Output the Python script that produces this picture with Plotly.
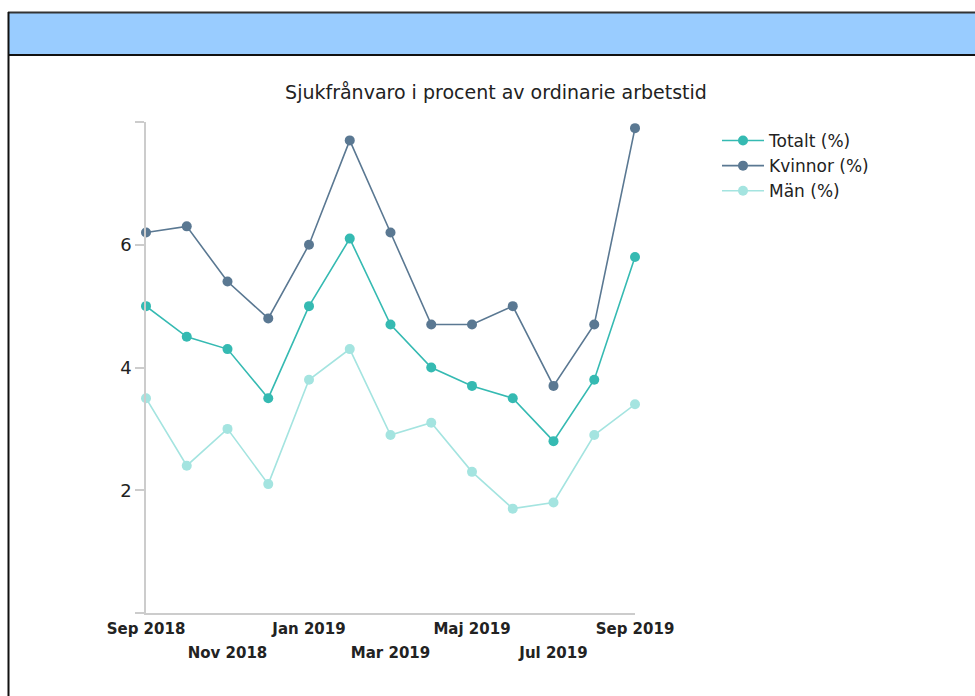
import plotly.graph_objects as go

months = ["Sep 2018", "Okt 2018", "Nov 2018", "Dec 2018", "Jan 2019", "Feb 2019",
          "Mar 2019", "Apr 2019", "Maj 2019", "Jun 2019", "Jul 2019", "Aug 2019", "Sep 2019"]
totalt = [5.0, 4.5, 4.3, 3.5, 5.0, 6.1, 4.7, 4.0, 3.7, 3.5, 2.8, 3.8, 5.8]
kvinnor = [6.2, 6.3, 5.4, 4.8, 6.0, 7.7, 6.2, 4.7, 4.7, 5.0, 3.7, 4.7, 7.9]
man = [3.5, 2.4, 3.0, 2.1, 3.8, 4.3, 2.9, 3.1, 2.3, 1.7, 1.8, 2.9, 3.4]
row1_ticks = ["Sep 2018", "Jan 2019", "Maj 2019", "Sep 2019"]
row2_ticks = ["Nov 2018", "Mar 2019", "Jul 2019"]
y_ticks = [0, 2, 4, 6, 8]
y_ticktext = ["", "2", "4", "6", ""]

W, H = 975, 696
L, R, T, B = 146, 635, 122, 613

def px(x):
    return (x - L) / (R - L)

def py(y):
    return (B - y) / (B - T)

fig = go.Figure()
series = [("Totalt (%)", totalt, "#35bab2"), ("Kvinnor (%)", kvinnor, "#5a7892"),
          ("Män (%)", man, "#a4e4e0")]
for name, vals, col in series:
    fig.add_trace(go.Scatter(x=months, y=vals, name=name, mode="lines+markers",
                             line=dict(color=col, width=1.6),
                             marker=dict(color=col, size=10), cliponaxis=False))

tickfont = dict(family="DejaVu Sans", size=15, color="#222222", weight="bold")
fig.update_layout(
    width=W, height=H, autosize=False,
    margin=dict(l=L, r=W - R, t=T, b=H - B, pad=0),
    paper_bgcolor="white", plot_bgcolor="white",
    font=dict(family="DejaVu Sans", color="#222222"),
    title=dict(text="Sjukfrånvaro i procent av ordinarie arbetstid",
               font=dict(family="DejaVu Sans", size=19, color="#222222"),
               xref="container", x=496 / W, xanchor="center",
               yref="container", y=1 - 92 / H, yanchor="middle"),
    xaxis=dict(type="category", categoryorder="array", categoryarray=months,
               range=[0, len(months) - 1], showgrid=False, zeroline=False,
               showline=True, linecolor="#cccccc", linewidth=1.5,
               ticks="", tickmode="array", tickvals=row1_ticks, ticktext=row1_ticks,
               tickfont=tickfont, ticklabelstandoff=1),
    xaxis2=dict(type="category", categoryorder="array", categoryarray=months,
                overlaying="x", anchor="y", side="bottom",
                range=[0, len(months) - 1], showgrid=False, zeroline=False,
                showline=False, ticks="", tickmode="array",
                tickvals=row2_ticks, ticktext=row2_ticks,
                tickfont=tickfont, ticklabelstandoff=29),
    yaxis=dict(range=[0, 8], showgrid=False, zeroline=False,
               showline=True, linecolor="#cccccc", linewidth=1.5,
               ticks="outside", ticklen=9, tickcolor="#cccccc", tickwidth=1.5,
               tickmode="array", tickvals=y_ticks, ticktext=y_ticktext,
               tickfont=dict(family="DejaVu Sans", size=18, color="#222222")),
    legend=dict(x=px(717), y=py(123), xanchor="left", yanchor="top",
                font=dict(family="DejaVu Sans", size=17, color="#222222"),
                tracegroupgap=0, itemwidth=42, bgcolor="rgba(0,0,0,0)"),
    showlegend=True,
)
# invisible helper trace that activates the second-row label axis
fig.add_trace(go.Scatter(x=months, y=totalt, xaxis="x2", mode="markers",
                         marker=dict(opacity=0), showlegend=False, hoverinfo="skip"))

shapes = [
    dict(type="rect", xref="paper", yref="paper", x0=px(8), x1=px(990), y0=py(12), y1=py(55),
         fillcolor="#99ccff", line=dict(width=0), layer="below"),
    dict(type="line", xref="paper", yref="paper", x0=px(8), x1=px(990), y0=py(12.5), y1=py(12.5),
         line=dict(color="#333333", width=2)),
    dict(type="line", xref="paper", yref="paper", x0=px(8.5), x1=px(8.5), y0=py(12), y1=py(700),
         line=dict(color="#111111", width=2)),
    dict(type="line", xref="paper", yref="paper", x0=px(8), x1=px(990), y0=py(55), y1=py(55),
         line=dict(color="#111111", width=2)),
]
fig.update_layout(shapes=shapes)
fig.write_html("out.html", config={"displayModeBar": False},
               post_script="document.body.style.margin='0';document.body.style.overflow='hidden';")
